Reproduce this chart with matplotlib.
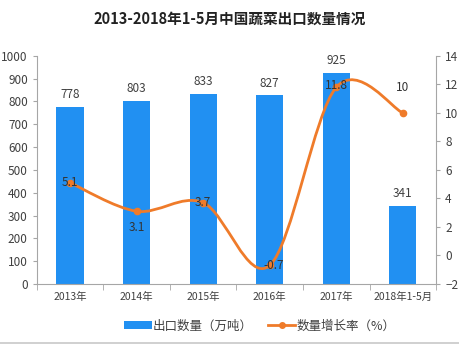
import numpy as np
import matplotlib.pyplot as plt
from matplotlib.path import Path
from matplotlib.patches import PathPatch, Patch
from matplotlib.lines import Line2D

plt.rcParams['font.family'] = ['Noto Sans CJK SC', 'DejaVu Sans']

# data
categories = ['2013年', '2014年', '2015年', '2016年', '2017年', '2018年1-5月']
export_qty = [778, 803, 833, 827, 925, 341]          # 万吨
growth_rate = [5.1, 3.1, 3.7, -0.7, 11.8, 10]         # %

bar_color = '#2190f2'
line_color = '#ef7b2a'
axis_color = '#a6a6a6'
text_color = '#404040'

# label offsets (points) for the growth-rate labels, to sit like the original
rate_label_offsets = [(0, 0), (0, -12), (0, 0), (3, 0), (0, 1), (0, 18)]

fig = plt.figure(figsize=(4.6, 3.45), dpi=100)
ax = fig.add_axes([0.080, 0.177, 0.868, 0.661])
x = np.arange(len(categories))

ax.bar(x, export_qty, width=0.41, color=bar_color, zorder=2)
for xi, v in zip(x, export_qty):
    ax.text(xi, v + 25, str(v), ha='center', va='bottom', fontsize=8.5, color=text_color)

ax.set_xlim(-0.5, len(categories) - 0.5)
ax.set_ylim(0, 1000)
ax.set_yticks(range(0, 1001, 100))
ax.set_xticks(x)
ax.set_xticklabels(categories, fontsize=7.5, color=text_color)
ax.set_xticks(np.arange(-0.5, len(categories), 1), minor=True)
ax.tick_params(axis='x', which='major', length=0, pad=6)
ax.tick_params(axis='x', which='minor', length=4, color=axis_color)
ax.tick_params(axis='y', labelsize=8.5, labelcolor=text_color, color=axis_color, length=3)
for s in ['top', 'right']:
    ax.spines[s].set_visible(False)
for s in ['left', 'bottom']:
    ax.spines[s].set_color(axis_color)

ax2 = ax.twinx()
ax2.set_ylim(-2, 14)
ax2.set_yticks(range(-2, 15, 2))
ax2.tick_params(axis='y', labelsize=8.5, labelcolor=text_color, color=axis_color, length=3)
for s in ['top', 'left', 'bottom']:
    ax2.spines[s].set_visible(False)
ax2.spines['right'].set_color(axis_color)

# smooth line through the points (Catmull-Rom as cubic Bezier)
pts = np.column_stack([x, growth_rate]).astype(float)
verts = [pts[0]]
codes = [Path.MOVETO]
for i in range(len(pts) - 1):
    p0 = pts[i - 1] if i > 0 else pts[i]
    p1, p2 = pts[i], pts[i + 1]
    p3 = pts[i + 2] if i + 2 < len(pts) else pts[i + 1]
    c1 = p1 + (p2 - p0) / 6
    c2 = p2 - (p3 - p1) / 6
    verts += [c1, c2, p2]
    codes += [Path.CURVE4] * 3
ax2.add_patch(PathPatch(Path(verts, codes), fill=False, edgecolor=line_color, lw=2, zorder=3))
ax2.plot(x, growth_rate, 'o', color=line_color, markersize=4.5, zorder=4)
for xi, v, off in zip(x, growth_rate, rate_label_offsets):
    ax2.annotate(f'{v:g}', (xi, v), xytext=off, textcoords='offset points',
                 ha='center', va='center', fontsize=8.5, color='#333333', zorder=5)

fig.text(0.5, 0.945, '2013-2018年1-5月中国蔬菜出口数量情况', ha='center', va='center',
         fontsize=10.5, fontweight='bold', color='#222222')

handles = [Patch(facecolor=bar_color, label='出口数量（万吨）'),
           Line2D([0], [0], color=line_color, lw=2, marker='o', markersize=4, label='数量增长率（%）')]
fig.legend(handles=handles, loc='center', bbox_to_anchor=(0.565, 0.055), ncol=2, frameon=False,
           fontsize=9, handlelength=2.2, handleheight=0.6, handletextpad=0.1, columnspacing=1.2,
           labelcolor=text_color)

fig.add_artist(Line2D([0, 1], [0.006, 0.006], color='#c8c8c8', lw=1.2, transform=fig.transFigure))

fig.savefig('out.png', dpi=100)
